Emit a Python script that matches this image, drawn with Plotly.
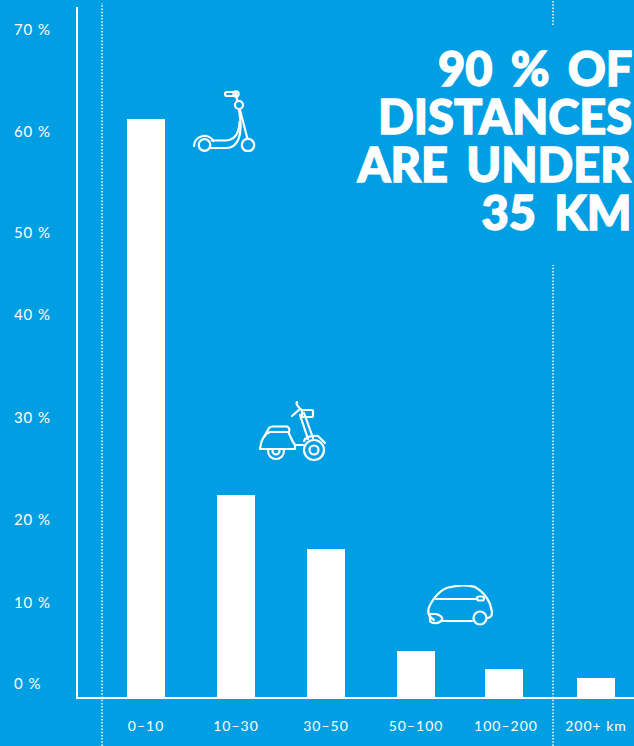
import base64
import plotly.graph_objects as go

categories = ["0–10", "10–30", "30–50", "50–100", "100–200", "200+ km"]
share_percent = [61.7, 21.6, 15.8, 4.9, 3.0, 2.0]
bar_offsets = [-0.211, -0.211, -0.211, -0.211, -0.233, -0.211]
tick_values = [1.4, 10.1, 18.9, 29.8, 40.8, 49.6, 60.4, 71.3]
tick_labels = ["0 %\u00a0\u00a0", "10 %", "20 %", "30 %", "40 %", "50 %", "60 %", "70 %"]
headline_lines = ["90 % OF", "DISTANCES", "ARE UNDER", "35 KM"]

BG = "#009fe3"
W, H = 634, 746
L, R, T, B = 78, 0, 7, 49
WORD_SPACING = 7


def svg_uri(body, w, h):
    svg = (f'<svg xmlns="http://www.w3.org/2000/svg" width="{w}" height="{h}" viewBox="0 0 {w} {h}">'
           f'<g fill="none" stroke="white" stroke-width="2.2" stroke-linecap="round" stroke-linejoin="round">{body}</g></svg>')
    return "data:image/svg+xml;base64," + base64.b64encode(svg.encode()).decode()


scooter = """
<circle cx="12.5" cy="55" r="5.8"/><circle cx="56" cy="55" r="6.2"/>
<path d="M2 56 A10.5 10.5 0 0 1 21.5 51"/>
<path d="M20 50.5 H33 C42 50.5 47 44 47.5 32"/>
<path d="M19 58 H34 C45 58 52 47 47 20"/>
<path d="M48 20 L55.5 49"/>
<circle cx="47" cy="15" r="4"/>
<path d="M45.5 11 L44.5 7"/>
<rect x="33" y="2" width="11" height="4" rx="2"/><circle cx="44" cy="4" r="2.6"/>
"""
moped = """
<circle cx="18" cy="50" r="8"/><circle cx="18" cy="50" r="3.5"/>
<circle cx="56" cy="49" r="10"/><circle cx="56" cy="49" r="4.5"/>
<path d="M2 48 C3 39 6 33 12 31 H30 C32 33 33 39 37 44 L37 48 Z" fill="#009fe3"/>
<path d="M6 36 L11 27 C12 26 13 25.500 15 25.500 H29 C31 26 32 28 31 31"/>
<path d="M37 44 H46"/>
<path d="M42 14 L50 38"/><path d="M46 12 L55 37"/>
<path d="M46 40 C48 36 54 34 60 35 L67 42"/>
<path d="M34 15 L42 8 L44 9"/><path d="M39 1 C37 4 41 5 42 8"/>
<rect x="44" y="9" width="11" height="7" rx="1.5"/>
"""
car = """
<path d="M7 35 C0 31 0 26 3 20 C8 11 14 3 24 2 C32 0 42 0 48 2 C57 7 61 14 63 19 L65 27 C65 31 64 32 61 33"/>
<path d="M14 36 H45"/><path d="M9 14 H50"/>
<rect x="50" y="11.5" width="7" height="4" rx="2"/>
<circle cx="53" cy="33" r="6.5"/>
<path d="M3 29 H9 C13 30 16 32 15 35 C12 39 5 39 3 36 Z"/>
"""

fig = go.Figure(
    go.Bar(x=categories, y=share_percent, width=0.422, offset=bar_offsets,
           marker=dict(color="white", line=dict(width=0)))
)


def paper_x(px):
    return (px - L) / (W - L - R)


def paper_y(py):
    return 1 - (py - T) / (H - T - B)


images = []
for body, w, h, x0, y0 in [(scooter, 68, 62, 192, 90), (moped, 70, 62, 258, 401), (car, 68, 42, 427, 585)]:
    images.append(dict(source=svg_uri(body, w, h), xref="paper", yref="paper",
                       x=paper_x(x0), y=paper_y(y0), sizex=w / (W - L - R), sizey=h / (H - T - B),
                       xanchor="left", yanchor="top", sizing="stretch", layer="above"))

dot = dict(color="white", width=1.5, dash="1.5px,1.7px")
shapes = [
    dict(type="line", xref="x", yref="paper", x0=-0.489, x1=-0.489, y0=paper_y(746), y1=paper_y(3), line=dot),
    dict(type="line", xref="x", yref="paper", x0=4.522, x1=4.522, y0=paper_y(746), y1=paper_y(265), line=dot),
    dict(type="line", xref="x", yref="paper", x0=4.522, x1=4.522, y0=paper_y(25), y1=paper_y(0), line=dot),
]

# CSS word spacing widens each line evenly about its middle, so pull the right edge back by half of it.
annotations = [
    dict(text=line, xref="paper", yref="paper",
         x=paper_x(633.5 - WORD_SPACING * line.count(" ") / 2), y=paper_y(py),
         xanchor="right", yanchor="middle", showarrow=False,
         font=dict(family="Lato, Liberation Sans", size=47, color="white", weight=900))
    for line, py in zip(headline_lines, [68, 116, 164, 212])
]

fig.update_layout(
    width=W, height=H, margin=dict(l=L, r=R, t=T, b=B, pad=0),
    paper_bgcolor=BG, plot_bgcolor=BG, showlegend=False, bargap=0,
    font=dict(family="Lato", size=14, color="white"),
    shapes=shapes, images=images, annotations=annotations,
    xaxis=dict(type="category", range=[-0.756, 5.422], categoryorder="array", categoryarray=categories,
               showline=True, linecolor="white", linewidth=2, showgrid=False, zeroline=False,
               ticks="", ticklabelstandoff=15, tickfont=dict(family="Lato", size=14, color="white")),
    yaxis=dict(range=[0, 73.7], tickmode="array", tickvals=tick_values, ticktext=tick_labels,
               showline=True, linecolor="white", linewidth=1.7, showgrid=False, zeroline=False,
               ticks="", ticklabelstandoff=22, tickfont=dict(family="Lato", size=15, color="white")),
)

post = """
document.body.style.margin='0';document.body.style.overflow='hidden';
document.documentElement.style.background='#009fe3';
var s=document.createElement('style');
s.textContent='.xtick text,.ytick text{letter-spacing:1px}.annotation text{word-spacing:%dpx;stroke:white;stroke-width:1.3px}';
document.head.appendChild(s);
""" % WORD_SPACING
fig.write_html("out.html", post_script=post, config=dict(displayModeBar=False))
